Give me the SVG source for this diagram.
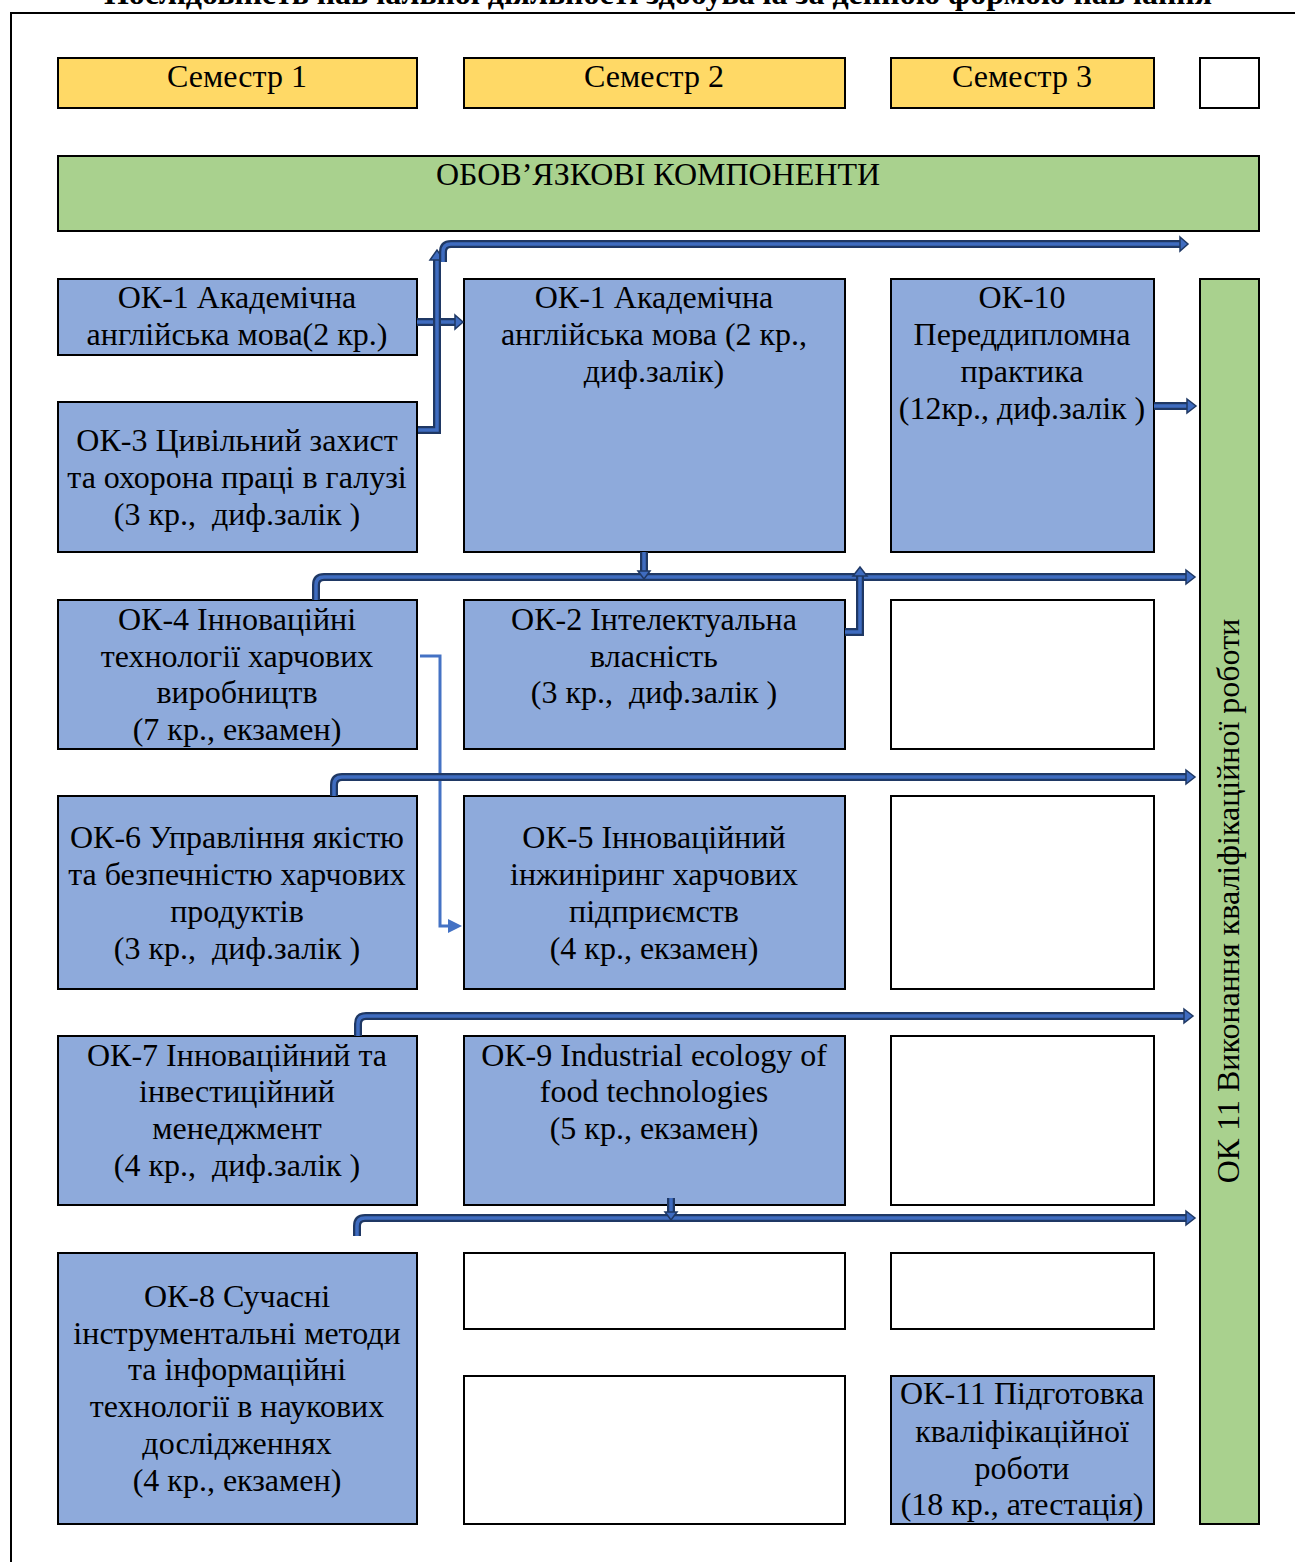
<svg xmlns="http://www.w3.org/2000/svg" width="1295" height="1562" viewBox="0 0 1295 1562">
<style>
text{font-family:"Liberation Serif","Times New Roman",serif;font-size:32px;fill:#000;text-anchor:middle}
.title{font-weight:bold;font-size:32px}
.b{fill:#8eaadb;stroke:#000;stroke-width:2}
.y{fill:#ffd966;stroke:#000;stroke-width:2}
.g{fill:#a9d18e;stroke:#000;stroke-width:2}
.w{fill:#fff;stroke:#000;stroke-width:2}
.ao{fill:none;stroke:#1f3864;stroke-width:8}
.ai{fill:none;stroke:#3f6cc0;stroke-width:3.5}
.ah{fill:#3f6cc0;stroke:#1f3864;stroke-width:1.5;stroke-linejoin:miter}
.thin{fill:none;stroke:#4472c4;stroke-width:3}
</style>
<rect width="1295" height="1562" fill="#fff"/>
<text class="title" x="658" y="4">Послідовність навчальної діяльності здобувача за денною формою навчання</text>
<path d="M11,1562 V13 H1295" fill="none" stroke="#000" stroke-width="2"/>

<g id="sem1"><rect class="y" x="58" y="58" width="359" height="50"/><text x="237" y="87">Семестр 1</text></g>
<g id="sem2"><rect class="y" x="464" y="58" width="381" height="50"/><text x="654" y="87">Семестр 2</text></g>
<g id="sem3"><rect class="y" x="891" y="58" width="263" height="50"/><text x="1022" y="87">Семестр 3</text></g>
<g id="sem4"><rect class="w" x="1200" y="58" width="59" height="50"/></g>
<g id="banner"><rect class="g" x="58" y="156" width="1201" height="75"/><text x="658" y="185">ОБОВ’ЯЗКОВІ КОМПОНЕНТИ</text></g>

<g id="ok1a"><rect class="b" x="58" y="279" width="359" height="76"/><text x="237" y="308">ОК-1 Академічна</text><text x="237" y="345">англійська мова(2 кр.)</text></g>
<g id="ok3"><rect class="b" x="58" y="402" width="359" height="150"/><text x="237" y="451">ОК-3 Цивільний захист</text><text x="237" y="488">та охорона праці в галузі</text><text x="237" y="525" xml:space="preserve">(3 кр.,  диф.залік )</text></g>
<g id="ok1b"><rect class="b" x="464" y="279" width="381" height="273"/><text x="654" y="308">ОК-1 Академічна</text><text x="654" y="345">англійська мова (2 кр.,</text><text x="654" y="382">диф.залік)</text></g>
<g id="ok10"><rect class="b" x="891" y="279" width="263" height="273"/><text x="1022" y="308">ОК-10</text><text x="1022" y="345">Переддипломна</text><text x="1022" y="382">практика</text><text x="1022" y="419">(12кр., диф.залік )</text></g>
<g id="ok11v"><rect class="g" x="1200" y="279" width="59" height="1245"/><text transform="translate(1239,901) rotate(-90)" x="0" y="0">ОК 11 Виконання кваліфікаційної роботи</text></g>

<g id="ok4"><rect class="b" x="58" y="600" width="359" height="149"/><text x="237" y="630">ОК-4 Інноваційні</text><text x="237" y="667">технології харчових</text><text x="237" y="703">виробництв</text><text x="237" y="740">(7 кр., екзамен)</text></g>
<g id="ok2"><rect class="b" x="464" y="600" width="381" height="149"/><text x="654" y="630">ОК-2 Інтелектуальна</text><text x="654" y="667">власність</text><text x="654" y="703" xml:space="preserve">(3 кр.,  диф.залік )</text></g>
<g id="e1"><rect class="w" x="891" y="600" width="263" height="149"/></g>

<g id="ok6"><rect class="b" x="58" y="796" width="359" height="193"/><text x="237" y="848">ОК-6 Управління якістю</text><text x="237" y="885">та безпечністю харчових</text><text x="237" y="922">продуктів</text><text x="237" y="959" xml:space="preserve">(3 кр.,  диф.залік )</text></g>
<g id="ok5"><rect class="b" x="464" y="796" width="381" height="193"/><text x="654" y="848">ОК-5 Інноваційний</text><text x="654" y="885">інжиніринг харчових</text><text x="654" y="922">підприємств</text><text x="654" y="959">(4 кр., екзамен)</text></g>
<g id="e2"><rect class="w" x="891" y="796" width="263" height="193"/></g>

<g id="ok7"><rect class="b" x="58" y="1036" width="359" height="169"/><text x="237" y="1066">ОК-7 Інноваційний та</text><text x="237" y="1102">інвестиційний</text><text x="237" y="1139">менеджмент</text><text x="237" y="1176" xml:space="preserve">(4 кр.,  диф.залік )</text></g>
<g id="ok9"><rect class="b" x="464" y="1036" width="381" height="169"/><text x="654" y="1066">ОК-9 Industrial ecology of</text><text x="654" y="1102">food technologies</text><text x="654" y="1139">(5 кр., екзамен)</text></g>
<g id="e3"><rect class="w" x="891" y="1036" width="263" height="169"/></g>

<g id="ok8"><rect class="b" x="58" y="1253" width="359" height="271"/><text x="237" y="1307">ОК-8 Сучасні</text><text x="237" y="1344">інструментальні методи</text><text x="237" y="1380">та інформаційні</text><text x="237" y="1417">технології в наукових</text><text x="237" y="1454">дослідженнях</text><text x="237" y="1491">(4 кр., екзамен)</text></g>
<g id="e4"><rect class="w" x="464" y="1253" width="381" height="76"/></g>
<g id="e5"><rect class="w" x="891" y="1253" width="263" height="76"/></g>
<g id="e6"><rect class="w" x="464" y="1376" width="381" height="148"/></g>
<g id="ok11"><rect class="b" x="891" y="1376" width="263" height="148"/><text x="1022" y="1404">ОК-11 Підготовка</text><text x="1022" y="1442">кваліфікаційної</text><text x="1022" y="1479">роботи</text><text x="1022" y="1515">(18 кр., атестація)</text></g>

<g id="connectors">
  <path class="ao" d="M417,322 H456"/><path class="ai" d="M417,322 H456"/>
  <polygon class="ah" points="455,315 463,322 455,329"/>
  <path class="ao" d="M418,430 H437 V258"/><path class="ai" d="M418,430 H437 V258"/>
  <polygon class="ah" points="430,260 437,250 444,260"/>
  <path class="ao" d="M443,262 V252 Q443,244 451,244 H1181"/><path class="ai" d="M443,262 V252 Q443,244 451,244 H1181"/>
  <polygon class="ah" points="1180,237 1188,244 1180,251"/>
  <path class="ao" d="M1154,406 H1188"/><path class="ai" d="M1154,406 H1188"/>
  <polygon class="ah" points="1187,399 1196,406 1187,413"/>
  <path class="ao" d="M316,600 V585 Q316,577 324,577 H1187"/><path class="ai" d="M316,600 V585 Q316,577 324,577 H1187"/>
  <polygon class="ah" points="1186,570 1195,577 1186,584"/>
  <path class="ao" d="M644,552 V571"/><path class="ai" d="M644,552 V571"/>
  <polygon class="ah" points="638,571 644,579 650,571"/>
  <path class="ao" d="M845,632 H860 V575"/><path class="ai" d="M845,632 H860 V575"/>
  <polygon class="ah" points="853,576 860,567 867,576"/>
  <path class="thin" d="M420,656 H440 V926 H450"/>
  <polygon points="448,919 462,926 448,933" fill="#4472c4"/>
  <path class="ao" d="M334,796 V785 Q334,777 342,777 H1187"/><path class="ai" d="M334,796 V785 Q334,777 342,777 H1187"/>
  <polygon class="ah" points="1186,770 1195,777 1186,784"/>
  <path class="ao" d="M358,1036 V1024 Q358,1016 366,1016 H1185"/><path class="ai" d="M358,1036 V1024 Q358,1016 366,1016 H1185"/>
  <polygon class="ah" points="1184,1009 1193,1016 1184,1023"/>
  <path class="ao" d="M357,1236 V1226 Q357,1218 365,1218 H1187"/><path class="ai" d="M357,1236 V1226 Q357,1218 365,1218 H1187"/>
  <polygon class="ah" points="1186,1211 1195,1218 1186,1225"/>
  <path class="ao" d="M671,1198 V1213"/><path class="ai" d="M671,1198 V1213"/>
  <polygon class="ah" points="665,1212 671,1220 677,1212"/>
</g>
</svg>
